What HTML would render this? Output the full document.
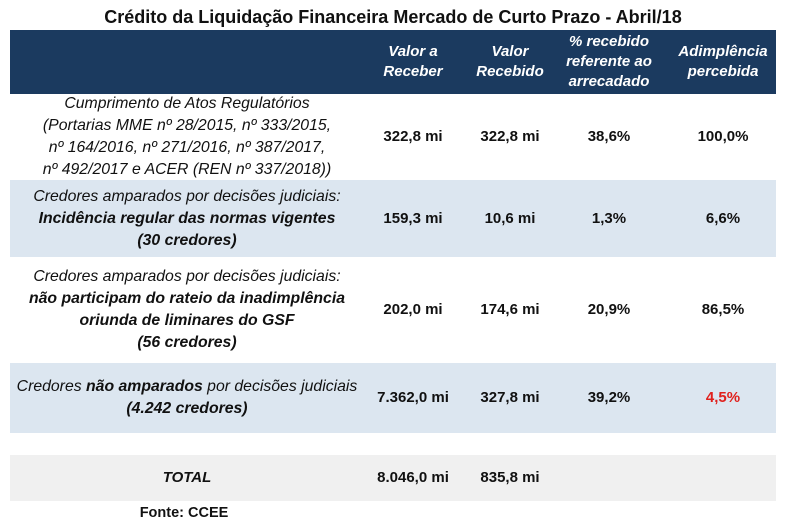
<!DOCTYPE html>
<html><head><meta charset="utf-8"><style>
body{margin:0;width:786px;height:530px;background:#fff;position:relative;overflow:hidden;font-family:"Liberation Sans",sans-serif;color:#111}
.b{position:absolute;left:10px;width:766px}
.c{position:absolute;display:flex;flex-direction:column;justify-content:center;align-items:center;text-align:center;font-size:15.8px;line-height:22px;white-space:nowrap}
.h{color:#fff;font-weight:bold;font-style:italic;font-size:15px;line-height:20px}
.v{font-weight:bold;font-size:15px}
i{font-style:italic}
</style></head><body>
<div class="c v" style="left:0;width:786px;top:5px;height:24px;font-size:18px">Crédito da Liquidação Financeira Mercado de Curto Prazo - Abril/18</div>
<div class="b" style="top:30px;height:64px;background:#1b3a5f"></div>
<div class="b" style="top:180px;height:77px;background:#dce6f0"></div>
<div class="b" style="top:363px;height:70px;background:#dce6f0"></div>
<div class="b" style="top:455px;height:46px;background:#f0f0f0"></div>

<div class="c h" style="left:363px;width:100px;top:30px;height:64px">Valor a<br>Receber</div>
<div class="c h" style="left:460px;width:100px;top:30px;height:64px">Valor<br>Recebido</div>
<div class="c h" style="left:559px;width:100px;top:30px;height:64px">% recebido<br>referente ao<br>arrecadado</div>
<div class="c h" style="left:673px;width:100px;top:30px;height:64px">Adimplência<br>percebida</div>

<div class="c" style="left:10px;width:354px;top:94px;height:86px"><i>Cumprimento de Atos Regulatórios<br>(Portarias MME nº 28/2015, nº 333/2015,<br>nº 164/2016, nº 271/2016, nº 387/2017,<br>nº 492/2017 e ACER (REN nº 337/2018))</i></div>
<div class="c v" style="left:363px;width:100px;top:94px;height:86px">322,8 mi</div>
<div class="c v" style="left:460px;width:100px;top:94px;height:86px">322,8 mi</div>
<div class="c v" style="left:559px;width:100px;top:94px;height:86px">38,6%</div>
<div class="c v" style="left:673px;width:100px;top:94px;height:86px">100,0%</div>

<div class="c" style="left:10px;width:354px;top:180px;height:77px"><i>Credores amparados por decisões judiciais:<br><b>Incidência regular das normas vigentes</b><br><b>(30 credores)</b></i></div>
<div class="c v" style="left:363px;width:100px;top:180px;height:77px">159,3 mi</div>
<div class="c v" style="left:460px;width:100px;top:180px;height:77px">10,6 mi</div>
<div class="c v" style="left:559px;width:100px;top:180px;height:77px">1,3%</div>
<div class="c v" style="left:673px;width:100px;top:180px;height:77px">6,6%</div>

<div class="c" style="left:10px;width:354px;top:257px;height:106px"><i>Credores amparados por decisões judiciais:<br><b>não participam do rateio da inadimplência</b><br><b>oriunda de liminares do GSF</b><br><b>(56 credores)</b></i></div>
<div class="c v" style="left:363px;width:100px;top:257px;height:106px">202,0 mi</div>
<div class="c v" style="left:460px;width:100px;top:257px;height:106px">174,6 mi</div>
<div class="c v" style="left:559px;width:100px;top:257px;height:106px">20,9%</div>
<div class="c v" style="left:673px;width:100px;top:257px;height:106px">86,5%</div>

<div class="c" style="left:10px;width:354px;top:363px;height:70px"><i>Credores <b>não amparados</b> por decisões judiciais<br><b>(4.242 credores)</b></i></div>
<div class="c v" style="left:363px;width:100px;top:363px;height:70px">7.362,0 mi</div>
<div class="c v" style="left:460px;width:100px;top:363px;height:70px">327,8 mi</div>
<div class="c v" style="left:559px;width:100px;top:363px;height:70px">39,2%</div>
<div class="c v" style="left:673px;width:100px;top:363px;height:70px;color:#e0201c">4,5%</div>

<div class="c v" style="left:10px;width:354px;top:455px;height:46px"><i>TOTAL</i></div>
<div class="c v" style="left:363px;width:100px;top:455px;height:46px">8.046,0 mi</div>
<div class="c v" style="left:460px;width:100px;top:455px;height:46px">835,8 mi</div>

<div class="c v" style="left:134px;width:100px;top:502px;height:22px;font-size:14.5px">Fonte: CCEE</div>
</body></html>
